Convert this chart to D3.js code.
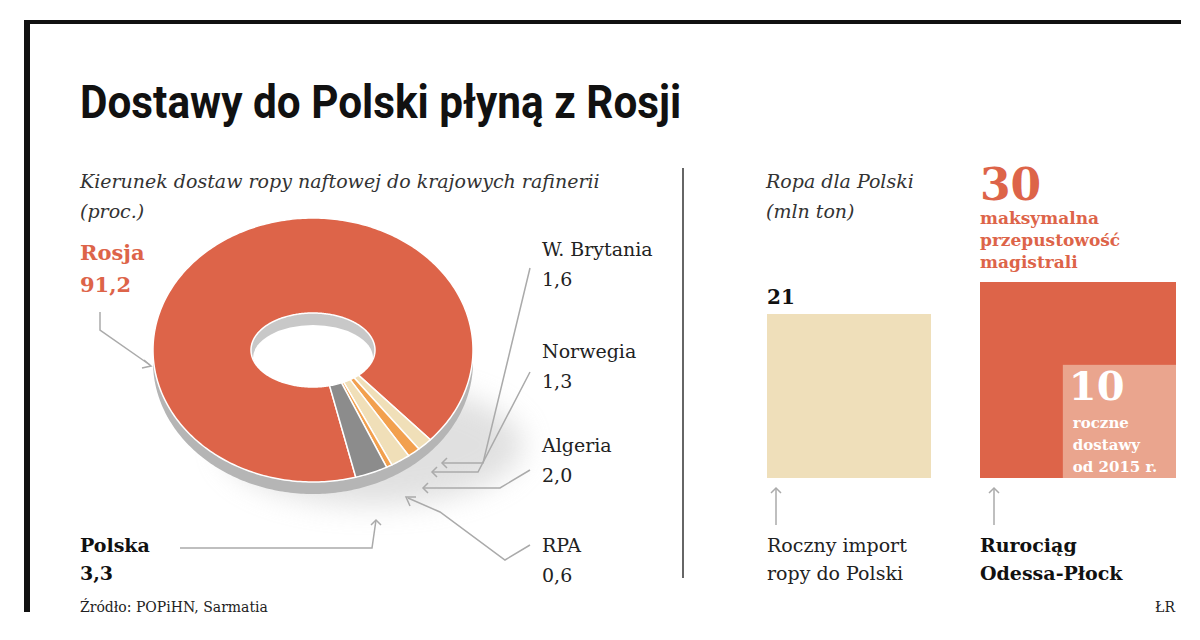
<!DOCTYPE html>
<html>
<head>
<meta charset="utf-8">
<script src="https://d3js.org/d3.v7.min.js"></script>
<style>
body { margin: 0; background: #fff; }
text { font-family: "DejaVu Serif", serif; }
</style>
</head>
<body>
<svg id="chart" width="1200" height="640"></svg>
<script>
// donut data (proc.)
const countries = ['Rosja', 'W. Brytania', 'Norwegia', 'Algeria', 'RPA', 'Polska'];
const shares = [91.2, 1.6, 1.3, 2.0, 0.6, 3.3];
const sliceColors = ['#dd6449', '#f0dfb8', '#f2a04e', '#f0dfb8', '#f2a04e', '#8c8c8c'];

// squares (mln ton)
const boxNames = ['Roczny import', 'maksymalna', 'roczne'];
const boxValues = [21, 30, 10];

const svg = d3.select('#chart');

// frame
svg.append('rect').attr('x', 24).attr('y', 20).attr('width', 1157).attr('height', 4).attr('fill', '#111');
svg.append('rect').attr('x', 24).attr('y', 20).attr('width', 6).attr('height', 592).attr('fill', '#111');
svg.append('text').attr('x', 80).attr('y', 118).text('Dostawy do Polski płyną z Rosji')
    .attr('font-family', 'Roboto, sans-serif').attr('font-weight', 'bold')
    .attr('font-size', 46).attr('fill', '#111').attr('transform', 'translate(80,0) scale(0.92,1) translate(-80,0)')
    .style('font-family', '"Liberation Sans Narrow", Roboto, sans-serif');

svg.append('line').attr('x1', 683).attr('x2', 683).attr('y1', 168).attr('y2', 578).attr('stroke', '#333').attr('stroke-width', 1.5);

// subtitles
const italic = (x, y, t) => svg.append('text').attr('x', x).attr('y', y).text(t)
    .attr('font-style', 'italic').attr('font-size', 19).attr('fill', '#333');
italic(80, 188, 'Kierunek dostaw ropy naftowej do krajowych rafinerii');
italic(80, 218, '(proc.)');
italic(766, 188, 'Ropa dla Polski');
italic(766, 218, '(mln ton)');

// donut geometry
const cx = 313, cy = 350, rxO = 160, ryO = 132, rxI = 62, ryI = 37, depth = 12;
const a0 = 164.5 * Math.PI / 180;
const pie = d3.pie().sort(null).startAngle(a0).endAngle(a0 + 2 * Math.PI);
const arcs = pie(shares);
const pt = (a, rx, ry, dy = 0) => [cx + rx * Math.sin(a), cy - ry * Math.cos(a) + dy];
function ringPath(a0, a1, dy = 0) {
  const n = Math.max(4, Math.ceil((a1 - a0) * 60));
  const outer = d3.range(n + 1).map(i => pt(a0 + (a1 - a0) * i / n, rxO, ryO, dy));
  const inner = d3.range(n + 1).map(i => pt(a1 - (a1 - a0) * i / n, rxI, ryI, dy));
  return d3.line()(outer.concat(inner)) + 'Z';
}

// shadow
const defs = svg.append('defs');
const f = defs.append('filter').attr('id', 'blur').attr('x', '-50%').attr('y', '-50%').attr('width', '200%').attr('height', '200%');
f.append('feGaussianBlur').attr('stdDeviation', 14);
svg.append('ellipse').attr('cx', cx + 60).attr('cy', cy + 95).attr('rx', 150).attr('ry', 60)
    .attr('fill', '#ccc').attr('opacity', 0.6).attr('filter', 'url(#blur)');

// thickness
svg.append('path').attr('d', ringPath(0, 2 * Math.PI, depth)).attr('fill', '#b5b5b5');
svg.append('path').attr('d', ringPath(0, 2 * Math.PI, 0)).attr('fill', '#fff');
// hole inner wall
svg.append('ellipse').attr('cx', cx).attr('cy', cy).attr('rx', rxI).attr('ry', ryI).attr('fill', '#c8c8c8');
svg.append('ellipse').attr('cx', cx).attr('cy', cy + 8).attr('rx', rxI - 2).attr('ry', ryI - 4).attr('fill', '#fff');

svg.selectAll('path.slice').data(arcs).enter().append('path').attr('class', 'slice')
    .attr('d', d => ringPath(d.startAngle, d.endAngle))
    .attr('fill', (d, i) => sliceColors[i]).attr('stroke', '#fff').attr('stroke-width', 1.5);

// labels
const bold = (x, y, t, c = '#111', s = 19) => svg.append('text').attr('x', x).attr('y', y).text(t)
    .attr('font-weight', 'bold').attr('font-size', s).attr('fill', c);
const plain = (x, y, t) => svg.append('text').attr('x', x).attr('y', y).text(t)
    .attr('font-size', 19).attr('fill', '#222');
const fmt = v => v.toFixed(1).replace('.', ',');
bold(80, 260, countries[0], '#dd6449', 21);
bold(80, 292, fmt(shares[0]), '#dd6449', 21);
bold(80, 552, countries[5]);
bold(80, 580, fmt(shares[5]));
const rightLabels = [[1, 256], [2, 358], [3, 452], [4, 552]];
rightLabels.forEach(([i, y]) => { plain(542, y, countries[i]); plain(542, y + 30, fmt(shares[i])); });

const g = '#aaa';
const leader = pts => svg.append('path').attr('d', d3.line()(pts)).attr('fill', 'none').attr('stroke', g).attr('stroke-width', 1.5);
const arrow = (x, y, dir) => {
  const s = 5;
  const p = dir === 'left' ? [[x + s, y - s], [x, y], [x + s, y + s]] : [[x - s, y + s], [x, y], [x + s, y + s]];
  leader(p);
};
leader([[100, 312], [100, 330], [150, 365]]);
svg.append('path').attr('d', 'M144,360 L151,366 L142,368').attr('fill', 'none').attr('stroke', g).attr('stroke-width', 1.5);
leader([[530, 268], [483, 463], [442, 463]]); arrow(442, 463, 'left');
leader([[530, 372], [478, 472], [432, 472]]); arrow(432, 472, 'left');
leader([[530, 470], [500, 488], [423, 488]]); arrow(423, 488, 'left');
leader([[530, 545], [505, 560], [440, 512], [408, 498]]);
svg.append('path').attr('d', 'M410,506 L406,497 L416,497').attr('fill', 'none').attr('stroke', g).attr('stroke-width', 1.5);
leader([[180, 548], [372, 548], [376, 520]]); arrow(376, 520, 'up');

// squares with sqrt scale of area
const side = d3.scaleSqrt().domain([0, 30]).range([0, 196]);
const base = 478;
const boxes = [
  { x: 767, v: boxValues[0], c: '#efdfba' },
  { x: 980, v: boxValues[1], c: '#dd6449' }
];
svg.selectAll('rect.box').data(boxes).enter().append('rect').attr('class', 'box')
    .attr('x', d => d.x).attr('y', d => base - side(d.v)).attr('width', d => side(d.v)).attr('height', d => side(d.v)).attr('fill', d => d.c);
const big = boxes[1];
svg.append('rect').attr('x', big.x + side(big.v) - side(boxValues[2])).attr('y', base - side(boxValues[2]))
    .attr('width', side(boxValues[2])).attr('height', side(boxValues[2])).attr('fill', '#eaa58e');

bold(767, base - side(boxValues[0]) - 10, String(boxValues[0]), '#111', 20);
bold(980, 200, String(boxValues[1]), '#dd6449', 44).attr('font-family', 'Roboto, sans-serif');
['maksymalna', 'przepustowość', 'magistrali'].forEach((t, i) => bold(980, 224 + i * 22, t, '#dd6449', 17));
const sx = big.x + side(big.v) - side(boxValues[2]) + 6;
bold(sx, 400, String(boxValues[2]), '#fff', 40).attr('font-family', 'Roboto, sans-serif');
['roczne', 'dostawy', 'od 2015 r.'].forEach((t, i) => bold(sx + 4, 428 + i * 22, t, '#fff', 15));

leader([[776, 525], [776, 488]]); arrow(776, 488, 'up');
leader([[994, 525], [994, 488]]); arrow(994, 488, 'up');
plain(767, 552, 'Roczny import');
plain(767, 580, 'ropy do Polski');
bold(980, 552, 'Rurociąg');
bold(980, 580, 'Odessa-Płock');

svg.append('text').attr('x', 80).attr('y', 612).text('Źródło: POPiHN, Sarmatia').attr('font-family', 'Roboto, sans-serif').attr('font-size', 14).attr('fill', '#222');
svg.append('text').attr('x', 1175).attr('y', 612).attr('text-anchor', 'end').text('ŁR').attr('font-family', 'Roboto, sans-serif').attr('font-size', 14).attr('fill', '#222');
</script>
</body>
</html>
